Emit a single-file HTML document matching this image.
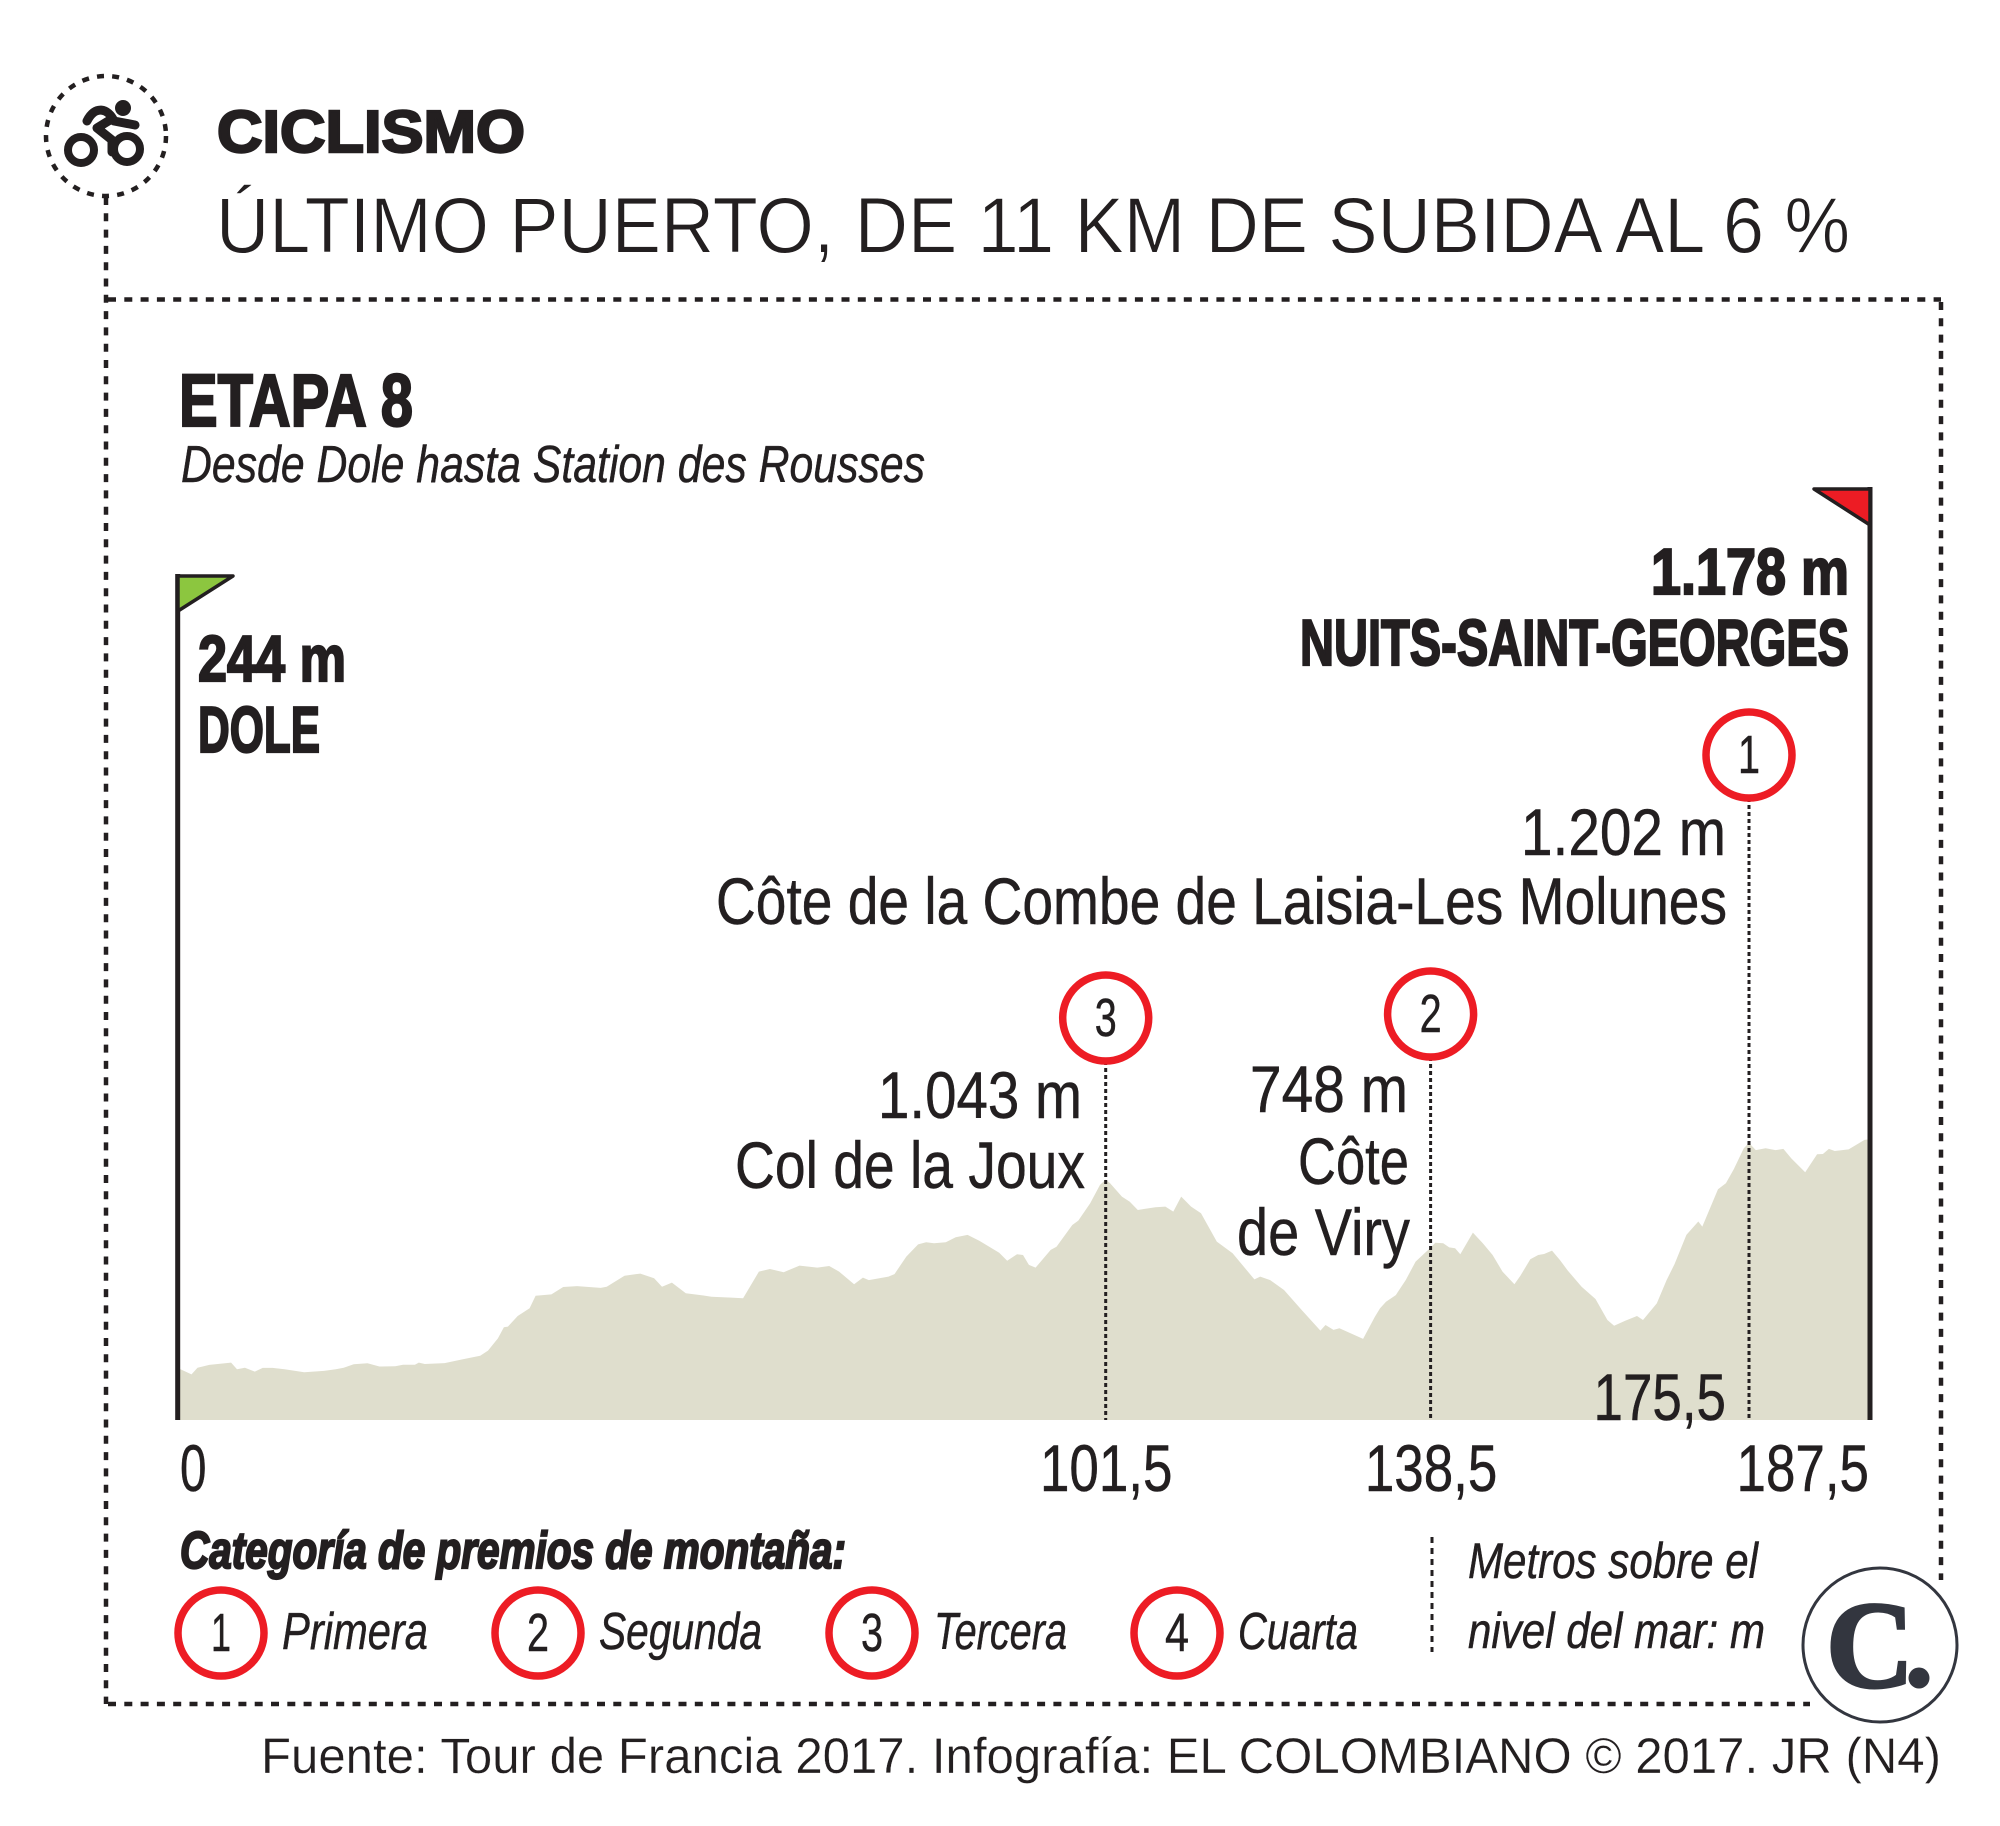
<!DOCTYPE html>
<html lang="es">
<head>
<meta charset="utf-8">
<title>Ciclismo - Etapa 8</title>
<style>
html,body{margin:0;padding:0;background:#fff;}
svg{display:block;}
text{font-family:"Liberation Sans",sans-serif;fill:#231f20;}
.n{font-family:"Liberation Sans Narrow","Liberation Sans",sans-serif;stroke:#231f20;stroke-width:.5;}
.h{font-weight:700;stroke:#231f20;stroke-width:2.2;}
.i{font-style:italic;}
.thin{stroke:#fff;stroke-width:.9;}
.thin2{stroke:#fff;stroke-width:.3;}
</style>
</head>
<body>
<svg id="chart" xmlns="http://www.w3.org/2000/svg" width="2000" height="1826" viewBox="0 0 2000 1826">
  <rect width="2000" height="1826" fill="#fff"/>

  <g fill="none" stroke="#231f20" stroke-width="4.5">
    <path d="M106 197V1704" stroke-dasharray="8 8.3"/>
    <path d="M108 299.500H1941" stroke-dasharray="8 8.3"/>
    <path d="M1941 302V1580" stroke-dasharray="8 8.3"/>
    <path d="M108 1704H1810" stroke-dasharray="8 8.3"/>
  </g>

  <g>
    <circle cx="106" cy="136" r="60" fill="none" stroke="#231f20" stroke-width="4.5" stroke-dasharray="7 8.200"/>
    <circle cx="81" cy="150" r="13" fill="none" stroke="#231f20" stroke-width="8"/>
    <circle cx="127" cy="149" r="13" fill="none" stroke="#231f20" stroke-width="8"/>
    <circle cx="123" cy="108" r="8" fill="#231f20"/>
    <path d="M87 121C95 105 108 108 114 121L135 125M110 120L97 128L112 140L112 152" fill="none" stroke="#231f20" stroke-width="9" stroke-linecap="round" stroke-linejoin="round"/>
  </g>

  <text x="217" y="152" font-size="59" font-weight="700" stroke="#231f20" stroke-width="2.4" textLength="308" lengthAdjust="spacingAndGlyphs">CICLISMO</text>
  <text class="thin" x="216" y="252.500" font-size="79" textLength="1634" lengthAdjust="spacingAndGlyphs">ÚLTIMO PUERTO, DE 11 KM DE SUBIDA AL 6 %</text>
  <text class="n h" x="179" y="426" font-size="74" textLength="234" lengthAdjust="spacingAndGlyphs">ETAPA 8</text>
  <text class="n i" x="181" y="482" font-size="52" textLength="744" lengthAdjust="spacingAndGlyphs">Desde Dole hasta Station des Rousses</text>

  <g id="profile-layer"></g>

  <g>
    <rect x="175.200" y="574" width="5" height="846" fill="#231f20"/>
    <path d="M178 576H233L178 611Z" fill="#8cc63f" stroke="#231f20" stroke-width="3.500" stroke-linejoin="round"/>
  </g>
  <g>
    <rect x="1867.500" y="487" width="5" height="933" fill="#231f20"/>
    <path d="M1870 489H1814L1870 525Z" fill="#ed1c24" stroke="#231f20" stroke-width="3.500" stroke-linejoin="round"/>
  </g>

  <text class="n h" x="198" y="681" font-size="65" textLength="148" lengthAdjust="spacingAndGlyphs">244 m</text>
  <text class="n h" x="198" y="752" font-size="65" textLength="122" lengthAdjust="spacingAndGlyphs">DOLE</text>
  <text class="n h" x="1651" y="594" font-size="65" textLength="198" lengthAdjust="spacingAndGlyphs">1.178 m</text>
  <text class="n h" x="1300" y="665" font-size="65" textLength="549" lengthAdjust="spacingAndGlyphs">NUITS-SAINT-GEORGES</text>

  <text class="n" x="1521" y="855" font-size="66" textLength="205" lengthAdjust="spacingAndGlyphs">1.202 m</text>
  <text class="n" x="716" y="924" font-size="66" textLength="1011" lengthAdjust="spacingAndGlyphs">Côte de la Combe de Laisia-Les Molunes</text>
  <text class="n" x="878" y="1118" font-size="66" textLength="204" lengthAdjust="spacingAndGlyphs">1.043 m</text>
  <text class="n" x="735" y="1188" font-size="66" textLength="350" lengthAdjust="spacingAndGlyphs">Col de la Joux</text>
  <text class="n" x="1250" y="1112" font-size="66" textLength="158" lengthAdjust="spacingAndGlyphs">748 m</text>
  <text class="n" x="1298" y="1184" font-size="66" textLength="111" lengthAdjust="spacingAndGlyphs">Côte</text>
  <text class="n" x="1237" y="1255" font-size="66" textLength="173" lengthAdjust="spacingAndGlyphs">de Viry</text>

  <text class="n i h" x="180" y="1568" font-size="52" textLength="666" lengthAdjust="spacingAndGlyphs">Categoría de premios de montaña:</text>

  <g>
    <circle cx="221" cy="1633" r="43" fill="#fff" stroke="#ed1c24" stroke-width="7.500"/>
    <text class="n" x="221" y="1651" font-size="54" text-anchor="middle" textLength="20" lengthAdjust="spacingAndGlyphs">1</text>
    <text class="n i" x="282" y="1649" font-size="52" textLength="146" lengthAdjust="spacingAndGlyphs">Primera</text>
  </g>
  <g>
    <circle cx="538" cy="1633" r="43" fill="#fff" stroke="#ed1c24" stroke-width="7.500"/>
    <text class="n" x="538" y="1651" font-size="54" text-anchor="middle" textLength="22" lengthAdjust="spacingAndGlyphs">2</text>
    <text class="n i" x="599" y="1649" font-size="52" textLength="163" lengthAdjust="spacingAndGlyphs">Segunda</text>
  </g>
  <g>
    <circle cx="872" cy="1633" r="43" fill="#fff" stroke="#ed1c24" stroke-width="7.500"/>
    <text class="n" x="872" y="1651" font-size="54" text-anchor="middle" textLength="22" lengthAdjust="spacingAndGlyphs">3</text>
    <text class="n i" x="934" y="1649" font-size="52" textLength="133" lengthAdjust="spacingAndGlyphs">Tercera</text>
  </g>
  <g>
    <circle cx="1177" cy="1633" r="43" fill="#fff" stroke="#ed1c24" stroke-width="7.500"/>
    <text class="n" x="1177" y="1651" font-size="54" text-anchor="middle" textLength="24" lengthAdjust="spacingAndGlyphs">4</text>
    <text class="n i" x="1238" y="1649" font-size="52" textLength="120" lengthAdjust="spacingAndGlyphs">Cuarta</text>
  </g>

  <path d="M1432 1537V1652" fill="none" stroke="#231f20" stroke-width="3" stroke-dasharray="6 5"/>
  <text class="n i" x="1468" y="1578" font-size="50" textLength="290" lengthAdjust="spacingAndGlyphs">Metros sobre el</text>
  <text class="n i" x="1468" y="1648" font-size="50" textLength="297" lengthAdjust="spacingAndGlyphs">nivel del mar: m</text>

  <g>
    <circle cx="1880" cy="1645" r="77" fill="#fff" stroke="#33363f" stroke-width="3"/>
    <text x="1826" y="1687" font-size="124" font-weight="700" textLength="88" lengthAdjust="spacingAndGlyphs" style="font-family:'Liberation Serif',serif;fill:#33363f;stroke:#33363f;stroke-width:3">C</text>
    <circle cx="1919" cy="1678" r="10.500" fill="#33363f"/>
  </g>

  <text class="thin2" x="261" y="1773" font-size="50" textLength="1680" lengthAdjust="spacingAndGlyphs">Fuente: Tour de Francia 2017. Infografía: EL COLOMBIANO © 2017. JR (N4)</text>
</svg>

<script>
// Distance along the route (km) and altitude (m).
var profileKm = [0,0.83,1.48,2.13,3.43,5.81,6.45,7.32,8.4,9.27,10.35,11.65,12.73,13.81,15.97,17.27,18.13,19.22,20.73,22.03,23.76,24.62,25.92,26.35,27,29.17,31.11,33.06,33.92,35,35.66,36.09,37.17,38.47,39.12,40.85,42.14,43.66,46.25,46.9,48.85,50.58,52.09,52.96,54.04,55.56,57.5,58.37,60.53,61.83,63.56,64.76,66.27,68,69.95,71.25,72.33,73.97,74.93,75.58,77.74,78.39,79.68,80.98,81.85,82.71,84.01,85.09,86.39,87.69,89.85,90.72,91.8,92.45,93.1,93.83,95.48,96.12,97.85,98.5,99.8,100.88,101.5,102,103.35,104.25,105.15,107.17,108.3,109.2,110.1,111.23,112.35,114.15,115.95,118.43,119.1,120.23,121.81,123.83,125.95,126.53,127.44,128.11,130.81,132.16,132.74,133.42,134.54,135.67,136.79,138.5,139.05,139.97,140.66,141.35,141.95,143.42,144.57,145.71,146.86,148.24,148.93,150.08,151,151.69,152.61,153.53,154.44,156.05,157.66,159.04,159.82,161.11,162.49,163.18,164.78,165.93,166.85,168.23,169.61,170.07,171.9,172.82,173.74,174.89,175.5,176.17,177.15,178.13,178.91,179.7,181.07,182.25,182.83,183.42,184.01,185.38,186.95,187.5];
var profileElevation = [225,210,198,227,239,249,220,227,210,226,226,220,214,207,213,220,227,242,246,232,233,240,240,249,243,247,263,279,301,354,402,405,451,485,539,545,577,581,573,578,626,635,615,578,596,550,540,535,531,528,644,655,641,670,661,668,644,589,618,607,622,633,709,762,771,767,771,793,803,777,726,691,719,716,673,661,738,752,846,865,940,1020,1043,1027,969,947,911,923,926,904,969,926,897,774,723,610,622,607,564,477,388,412,391,398,352,448,484,513,542,607,687,748,769,767,749,745,719,813,767,716,644,589,626,697,716,720,735,694,648,578,525,434,409,431,451,434,506,607,677,803,861,839,1001,1027,1089,1179,1202,1171,1179,1171,1176,1135,1075,1153,1154,1176,1167,1174,1215,1218];
var tickKm = [0,101.5,138.5,187.5];
var tickLabels = ['0','101,5','138,5','187,5'];
var climbKm = [101.5,138.5,175.5];
var climbCategory = [3,2,1];
var climbKmLabels = ['','','175,5'];

// The printed distances are not evenly spaced on the drawn axis, so the x axis is piecewise linear.
var axisKnotsKm = [0,101.5,138.5,175.5,187.5];
var axisKnotsPx = [178,1105.7,1430.6,1749,1870];
var baselineY = 1420;
var pxPerMetre = 0.2305;
var badgeCentreY = {1:755, 2:1014, 3:1018};
var badgeRadius = 43;
var NS = 'http://www.w3.org/2000/svg';

function xScale(km){
  for(var i=0;i<axisKnotsKm.length-2;i++){
    if(km<=axisKnotsKm[i+1]) break;
  }
  var t=(km-axisKnotsKm[i])/(axisKnotsKm[i+1]-axisKnotsKm[i]);
  return axisKnotsPx[i]+t*(axisKnotsPx[i+1]-axisKnotsPx[i]);
}
function yScale(m){ return baselineY-m*pxPerMetre; }

var layer=document.getElementById('profile-layer');

var d='M'+xScale(profileKm[0]).toFixed(1)+' '+baselineY;
for(var p=0;p<profileKm.length;p++){
  d+='L'+xScale(profileKm[p]).toFixed(1)+' '+yScale(profileElevation[p]).toFixed(1);
}
d+='L'+xScale(profileKm[profileKm.length-1]).toFixed(1)+' '+baselineY+'Z';
var area=document.createElementNS(NS,'path');


area.setAttribute('d',d);
area.setAttribute('fill','#dfdecd');
layer.appendChild(area);

climbKm.forEach(function(km,i){
  var cx=xScale(km), cy=badgeCentreY[climbCategory[i]];
  var line=document.createElementNS(NS,'line');
  
  
  line.setAttribute('x1',cx);line.setAttribute('x2',cx);
  line.setAttribute('y1',cy+badgeRadius);line.setAttribute('y2',baselineY);
  line.setAttribute('stroke','#231f20');line.setAttribute('stroke-width','3');
  line.setAttribute('stroke-dasharray','4 3');
  layer.appendChild(line);

  var badge=document.createElementNS(NS,'circle');
  
  
  badge.setAttribute('cx',cx);badge.setAttribute('cy',cy);badge.setAttribute('r',badgeRadius);
  badge.setAttribute('fill','#fff');badge.setAttribute('stroke','#ed1c24');badge.setAttribute('stroke-width','7.5');
  layer.appendChild(badge);

  var num=document.createElementNS(NS,'text');
  
  
  num.setAttribute('class','n');
  num.setAttribute('x',cx);num.setAttribute('y',cy+18);
  num.setAttribute('font-size','54');num.setAttribute('text-anchor','middle');
  num.setAttribute('textLength','22');
  num.setAttribute('lengthAdjust','spacingAndGlyphs');
  num.textContent=climbCategory[i];
  layer.appendChild(num);

  if(climbKmLabels[i]){
    var kmText=document.createElementNS(NS,'text');
    
    
    kmText.setAttribute('class','n');
    kmText.setAttribute('x',cx-23);kmText.setAttribute('y',baselineY);
    kmText.setAttribute('font-size','66');kmText.setAttribute('text-anchor','end');
    kmText.setAttribute('textLength',climbKmLabels[i].length*26.5);
    kmText.setAttribute('lengthAdjust','spacingAndGlyphs');
    kmText.textContent=climbKmLabels[i];
    layer.appendChild(kmText);
  }
});

tickKm.forEach(function(km,i){
  var t=document.createElementNS(NS,'text');
  
  
  t.setAttribute('class','n');
  var first=i===0,last=i===tickKm.length-1;
  t.setAttribute('x',first?xScale(km)+2:(last?xScale(km)-1:xScale(km)+0.5));
  t.setAttribute('y',1491);
  t.setAttribute('font-size','66');
  t.setAttribute('text-anchor',first?'start':(last?'end':'middle'));
  t.setAttribute('textLength',tickLabels[i].length*26.5);
  t.setAttribute('lengthAdjust','spacingAndGlyphs');
  t.textContent=tickLabels[i];
  layer.appendChild(t);
});
</script>
</body>
</html>
